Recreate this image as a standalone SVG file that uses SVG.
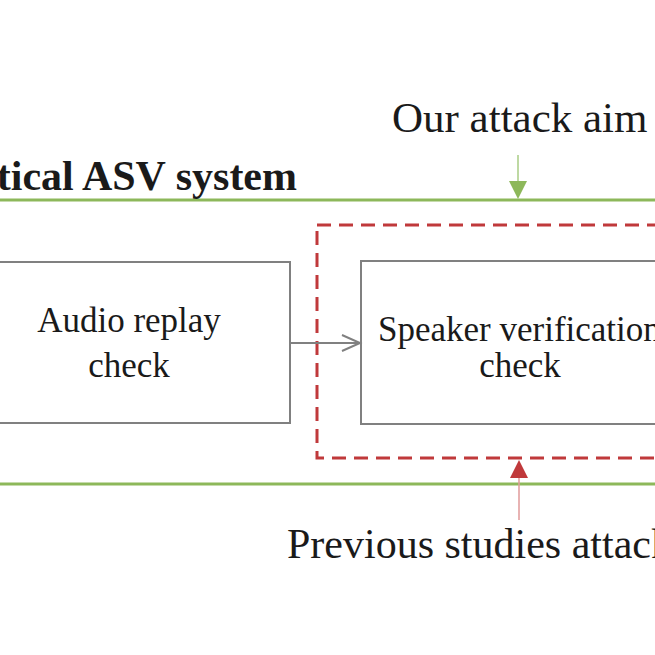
<svg xmlns="http://www.w3.org/2000/svg" width="655" height="655" viewBox="0 0 655 655">
<defs>
<style>
.t{font-family:"Liberation Serif","Times New Roman",serif;fill:#1a1a1a}
.box{fill:#fff;stroke:#808080;stroke-width:2}
.green{stroke:#8db85a;stroke-width:3;fill:none}
</style>
<marker id="open" markerWidth="24" markerHeight="20" refX="20" refY="10" orient="auto" markerUnits="userSpaceOnUse">
<path d="M2,2 L20,10 L2,18" fill="none" stroke="#808080" stroke-width="2"/>
</marker>
</defs>
<rect width="655" height="655" fill="#fff"/>
<g id="frame">
<line class="green" x1="0" y1="200" x2="655" y2="200"/>
<line class="green" x1="0" y1="484" x2="655" y2="484"/>
<text class="t" x="297" y="190" font-size="42" font-weight="bold" text-anchor="end">tical ASV system</text>
</g>
<g id="attack-scope">
<rect x="317" y="225" width="360" height="233" fill="none" stroke="#c0393b" stroke-width="3" stroke-dasharray="14,8"/>
</g>
<g id="audio-replay">
<rect class="box" x="-10" y="262" width="300" height="161"/>
<text class="t" x="129" y="332" font-size="35" text-anchor="middle">Audio replay</text>
<text class="t" x="129" y="377" font-size="35" text-anchor="middle">check</text>
</g>
<g id="speaker-verification">
<rect class="box" x="361" y="261" width="320" height="163"/>
<text class="t" x="378" y="341" font-size="35">Speaker verification</text>
<text class="t" x="520" y="377" font-size="35" text-anchor="middle">check</text>
</g>
<g id="labels">
<text class="t" x="392" y="132" font-size="43">Our attack aim</text>
<text class="t" x="287" y="558" font-size="42">Previous studies attack</text>
</g>
<g id="connectors">
<line x1="290" y1="343" x2="360" y2="343" stroke="#808080" stroke-width="2" marker-end="url(#open)"/>
<line x1="518" y1="155" x2="518" y2="185" stroke="#a9cc85" stroke-width="1.5"/>
<path d="M509,181 L527,181 L518,199 Z" fill="#8db85a"/>
<line x1="519" y1="520" x2="519" y2="475" stroke="#e09a9a" stroke-width="1.5"/>
<path d="M510,478 L528,478 L519,460 Z" fill="#c0393b"/>
</g>
</svg>
